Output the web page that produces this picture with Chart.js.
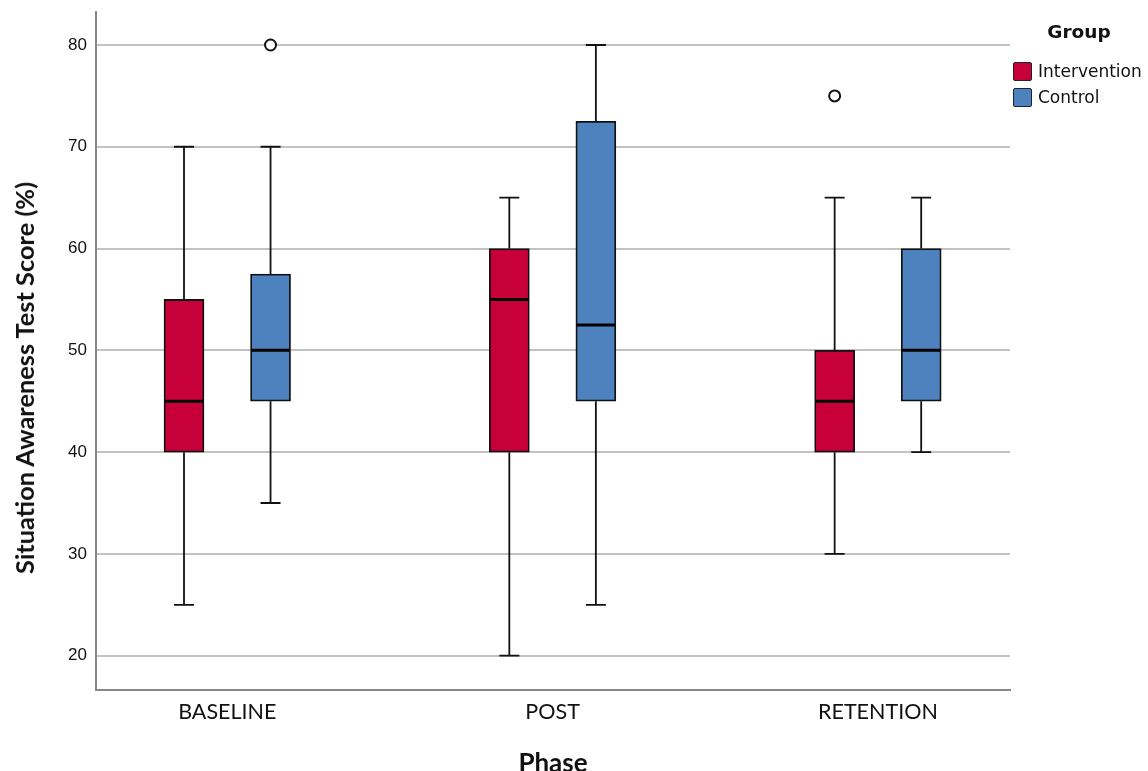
<!DOCTYPE html>
<html>
<head>
<meta charset="utf-8">
<script src="https://cdn.jsdelivr.net/npm/chart.js@4.4.1/dist/chart.umd.min.js"></script>
<style>
    html, body { margin: 0; padding: 0; background: #fff; }
    #wrap { position: relative; width: 1148px; height: 771px; overflow: hidden; }
    #yTitle {
        position: absolute; left: 24px; top: 378px;
        transform: translate(-50%, -50%) rotate(-90deg);
        font: bold 25.4px Lato, sans-serif; color: #111; white-space: nowrap;
    }
    #legend { position: absolute; left: 1013px; top: 21px; font-family: "DejaVu Sans", sans-serif; color: #111; }
    #legend .title { font-weight: bold; font-size: 18.5px; width: 132px; text-align: center; margin-bottom: 16px; }
    #legend .item { display: flex; align-items: center; height: 26px; font-size: 17px; white-space: nowrap; }
    #legend .sw { width: 17px; height: 17px; border: 1.5px solid #222; border-radius: 2px; margin-right: 6px; }
</style>
</head>
<body>
<div id="wrap">
    <canvas id="boxChart" width="1148" height="771"></canvas>
    <div id="yTitle">Situation Awareness Test Score (%)</div>
    <div id="legend">
        <div class="title">Group</div>
        <div class="item"><span class="sw" style="background:#C8003A"></span>Intervention</div>
        <div class="item"><span class="sw" style="background:#4E82BE"></span>Control</div>
    </div>
</div>
<script>
// Phases (x categories)
const phases = ['BASELINE', 'POST', 'RETENTION'];
const yTicks = [20, 30, 40, 50, 60, 70, 80];

// Intervention group box stats
const intMin = [25, 20, 30];
const intQ1  = [40, 40, 40];
const intMed = [45, 55, 45];
const intQ3  = [55, 60, 50];
const intMax = [70, 65, 65];
const intOutliers = [[], [], [75]];

// Control group box stats
const ctlMin = [35, 25, 40];
const ctlQ1  = [45, 45, 45];
const ctlMed = [50, 52.5, 50];
const ctlQ3  = [57.5, 72.5, 60];
const ctlMax = [70, 80, 65];
const ctlOutliers = [[80], [], []];

const RED = '#C8003A';
const BLUE = '#4E82BE';
const OFF = 0.133;     // group offset from phase centre
const BOX_W = 40;
const CAP_W = 20;

const groups = [
    { shift: -OFF, min: intMin, q1: intQ1, med: intMed, q3: intQ3, max: intMax },
    { shift: OFF, min: ctlMin, q1: ctlQ1, med: ctlMed, q3: ctlQ3, max: ctlMax }
];

function outlierPoints(list, shift) {
    const pts = [];
    list.forEach((vals, i) => vals.forEach(v => pts.push({ x: i + shift, y: v })));
    return pts;
}

// whiskers behind the boxes, medians on top
const boxPlotPlugin = {
    id: 'boxPlotExtras',
    beforeDatasetsDraw(chart) {
        const { ctx, scales: { x, y } } = chart;
        ctx.save();
        ctx.strokeStyle = '#111';
        ctx.lineWidth = 1.8;
        groups.forEach(g => {
            phases.forEach((p, i) => {
                const px = x.getPixelForValue(i + g.shift);
                ctx.beginPath();
                ctx.moveTo(px, y.getPixelForValue(g.max[i]));
                ctx.lineTo(px, y.getPixelForValue(g.q3[i]));
                ctx.moveTo(px, y.getPixelForValue(g.q1[i]));
                ctx.lineTo(px, y.getPixelForValue(g.min[i]));
                [g.max[i], g.min[i]].forEach(v => {
                    const py = y.getPixelForValue(v);
                    ctx.moveTo(px - CAP_W / 2, py);
                    ctx.lineTo(px + CAP_W / 2, py);
                });
                ctx.stroke();
            });
        });
        ctx.restore();
    },
    afterDatasetsDraw(chart) {
        const { ctx, scales: { x, y } } = chart;
        ctx.save();
        ctx.strokeStyle = '#000';
        ctx.lineWidth = 3;
        groups.forEach(g => {
            phases.forEach((p, i) => {
                const px = x.getPixelForValue(i + g.shift);
                const py = y.getPixelForValue(g.med[i]);
                ctx.beginPath();
                ctx.moveTo(px - BOX_W / 2 + 1, py);
                ctx.lineTo(px + BOX_W / 2 - 1, py);
                ctx.stroke();
            });
        });
        ctx.restore();
    }
};

new Chart(document.getElementById('boxChart'), {
    type: 'bar',
    data: {
        datasets: [
            {
                label: 'Intervention',
                data: phases.map((p, i) => ({ x: i - OFF, y: [intQ1[i], intQ3[i]] })),
                backgroundColor: RED,
                borderColor: '#111',
                borderWidth: 1.8,
                borderSkipped: false,
                barThickness: BOX_W,
                grouped: false
            },
            {
                label: 'Control',
                data: phases.map((p, i) => ({ x: i + OFF, y: [ctlQ1[i], ctlQ3[i]] })),
                backgroundColor: BLUE,
                borderColor: '#111',
                borderWidth: 1.8,
                borderSkipped: false,
                barThickness: BOX_W,
                grouped: false
            },
            {
                type: 'scatter',
                label: 'Outliers',
                data: outlierPoints(intOutliers, -OFF).concat(outlierPoints(ctlOutliers, OFF)),
                pointRadius: 5.5,
                pointBackgroundColor: '#fff',
                pointBorderColor: '#111',
                pointBorderWidth: 2
            }
        ]
    },
    plugins: [boxPlotPlugin],
    options: {
        responsive: false,
        animation: false,
        devicePixelRatio: 1,
        layout: { padding: { top: 11.7, right: 138, left: 0, bottom: 0 } },
        plugins: {
            legend: { display: false },
            tooltip: { enabled: false }
        },
        scales: {
            x: {
                type: 'linear',
                offset: false,
                min: -0.4035,
                max: 2.406,
                afterBuildTicks: s => { s.ticks = phases.map((p, i) => ({ value: i })); },
                afterFit: s => { s.height = 81; s.paddingLeft = 0; s.paddingRight = 0; },
                grid: { display: false, drawTicks: false },
                border: { display: true, color: '#888', width: 2 },
                ticks: {
                    padding: 9,
                    color: '#111',
                    font: { family: 'Lato', size: 21.5 },
                    callback: v => phases[v]
                },
                title: {
                    display: true,
                    text: 'Phase',
                    color: '#111',
                    font: { family: 'Lato', size: 26, weight: 'bold' },
                    padding: { top: 0, bottom: -8 }
                }
            },
            y: {
                min: 16.63,
                max: 83.27,
                afterBuildTicks: s => { s.ticks = yTicks.map(v => ({ value: v })); },
                afterFit: s => { s.width = 96; s.paddingTop = 0; s.paddingBottom = 0; },
                grid: { color: '#c2c2c2', lineWidth: 2, drawTicks: false },
                border: { display: true, color: '#888', width: 2 },
                ticks: {
                    padding: 9,
                    color: '#111',
                    font: { family: 'Liberation Sans', size: 17 }
                }
            }
        }
    }
});
</script>
</body>
</html>
